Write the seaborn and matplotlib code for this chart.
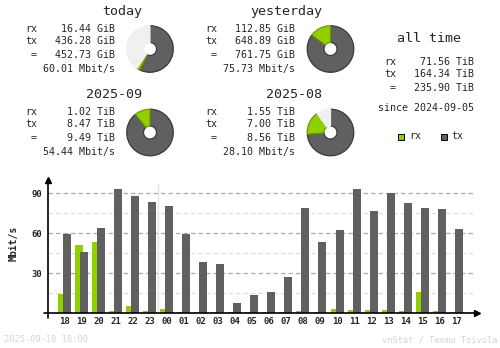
import numpy as np
import matplotlib
matplotlib.use("Agg")
import matplotlib.pyplot as plt
import seaborn as sns

# ---------------- data ----------------
hours = ["18", "19", "20", "21", "22", "23", "00", "01", "02", "03", "04", "05",
         "06", "07", "08", "09", "10", "11", "12", "13", "14", "15", "16", "17"]
rx_rate = [14.5, 51.3, 53.5, 1.8, 5.5, 1.8, 3.3, 1.0, 1.0, 1.0, 1.0, 0.5,
           1.0, 1.0, 1.8, 1.0, 3.3, 2.5, 2.5, 2.5, 1.8, 16.0, 1.8, 1.0]
tx_rate = [59.5, 46.0, 64.0, 93.3, 88.0, 83.5, 80.5, 59.5, 38.5, 37.0, 7.8, 13.8,
           16.0, 27.3, 79.0, 53.5, 62.5, 93.3, 76.8, 90.3, 82.8, 79.0, 78.3, 63.3]
y_ticks = [30, 60, 90]

today_vals = [436.28, 16.44, 761.75 - 452.73]      # tx, rx, remaining vs. yesterday
yesterday_vals = [648.89, 112.85, 0.0]
month_cur_vals = [8.47, 1.02, 0.0]
month_prev_vals = [7.00, 1.55, 9.49 - 8.56]

today_txt = ["16.44 GiB", "436.28 GiB", "452.73 GiB", "60.01 Mbit/s"]
yesterday_txt = ["112.85 GiB", "648.89 GiB", "761.75 GiB", "75.73 Mbit/s"]
month_cur_txt = ["1.02 TiB", "8.47 TiB", "9.49 TiB", "54.44 Mbit/s"]
month_prev_txt = ["1.55 TiB", "7.00 TiB", "8.56 TiB", "28.10 Mbit/s"]
alltime_txt = ["71.56 TiB", "164.34 TiB", "235.90 TiB"]

# ---------------- style ----------------
sns.set_style("white")
plt.rcParams["font.family"] = ["DejaVu Sans Mono", "DejaVu Sans"]

RX = "#92cf00"
TX = "#606060"
REST = "#f0f0f0"
RX_EDGE = "#6a9a00"
TX_EDGE = "#3a3a3a"

W, H = 500, 348
fig = plt.figure(figsize=(W / 100, H / 100), dpi=100)
fig.patch.set_facecolor("white")


def ftext(x, y, s, **kw):
    kw.setdefault("va", "center")
    kw.setdefault("fontsize", 7.2)
    fig.text(x / W, 1 - y / H, s, **kw)


def block(xl, xr, title, ytitle, rows_y, txt):
    ftext(xr + 27, ytitle, title, ha="right", fontsize=9.6)
    ftext(xl, rows_y[0], "rx", ha="left")
    ftext(xl, rows_y[1], "tx", ha="left")
    ftext(xl + 9, rows_y[2], "=", ha="center")
    for yy, s in zip(rows_y, txt):
        ftext(xr, yy, s, ha="right")


def pie(cx, cy, vals):
    r = 24
    ax = fig.add_axes([(cx - r) / W, 1 - (cy + r) / H, 2 * r / W, 2 * r / H])
    cols = [TX, RX, REST]
    edges = [TX_EDGE, RX_EDGE, REST]
    v2, c2, e2 = [], [], []
    for v, c, e in zip(vals, cols, edges):
        if v > 0:
            v2.append(v); c2.append(c); e2.append(e)
    wedges, _ = ax.pie(v2, colors=c2, startangle=90, counterclock=False, radius=0.97,
                       wedgeprops=dict(width=0.97 - 6.5 / 24, linewidth=0.9))
    for w, e in zip(wedges, e2):
        w.set_edgecolor(e)
        w.set_clip_on(False)
    ax.set_xlim(-1, 1)
    ax.set_ylim(-1, 1)
    ax.set_aspect("equal")
    ax.axis("off")


# text blocks
block(25, 115, "today", 12, [29, 41, 55, 69], today_txt)
block(25, 115, "2025-09", 94, [112, 124, 138, 152], month_cur_txt)
block(205, 295, "yesterday", 12, [29, 41, 55, 69], yesterday_txt)
block(205, 295, "2025-08", 94, [112, 124, 138, 152], month_prev_txt)

pie(150, 49, today_vals)
pie(150, 132.5, month_cur_vals)
pie(330.5, 49, yesterday_vals)
pie(330.5, 132.5, month_prev_vals)

# all time
ftext(429, 39, "all time", ha="center", fontsize=9.6)
ftext(384, 62, "rx", ha="left")
ftext(384, 74, "tx", ha="left")
ftext(393, 88, "=", ha="center")
for yy, s in zip([62, 74, 88], alltime_txt):
    ftext(474, yy, s, ha="right")
ftext(474, 108, "since 2024-09-05", ha="right")

# legend
from matplotlib.patches import Rectangle
fig.patches.append(Rectangle((398 / W, 1 - 139.5 / H), 6 / W, 6 / H, transform=fig.transFigure,
                             facecolor=RX, edgecolor="black", lw=0.7))
ftext(409, 136, "rx", ha="left")
fig.patches.append(Rectangle((440.5 / W, 1 - 139.5 / H), 6 / W, 6 / H, transform=fig.transFigure,
                             facecolor=TX, edgecolor="black", lw=0.7))
ftext(451, 136, "tx", ha="left")

# ---------------- bar chart ----------------
ax = fig.add_axes([48 / W, 1 - 313 / H, 429 / W, 133 / H])
pos = np.arange(len(hours))
off = 0.147
sns.barplot(x=pos - off, y=rx_rate, native_scale=True, width=0.47, color=RX,
            saturation=1, linewidth=0, errorbar=None, ax=ax, orient="x", zorder=2)
sns.barplot(x=pos + off, y=tx_rate, native_scale=True, width=0.47, color=TX,
            saturation=1, linewidth=0, errorbar=None, ax=ax, orient="x", zorder=3)

x0, x1 = -0.97, 24.22
for v in [15, 45, 75]:
    ax.hlines(v, x0, 24.0, colors="#dedede", linestyles=(0, (3.6, 2.4)), lw=0.9, zorder=0)
for v in y_ticks:
    ax.hlines(v, x0, 24.0, colors="#ababab", linestyles=(0, (3.6, 2.4)), lw=0.9, zorder=0)
ax.vlines(5.5, 0, 97.7, colors="#e2e2e2", lw=0.9, zorder=0)

ax.set_xlim(x0, x1)
ax.set_ylim(0, 99.8)
for s in ax.spines.values():
    s.set_visible(False)
ax.plot([0, 0], [-0.035, 1], transform=ax.transAxes, color="black", lw=1.2, clip_on=False, zorder=5)
ax.plot([-0.01, 1], [0, 0], transform=ax.transAxes, color="black", lw=1.2, clip_on=False, zorder=5)
ax.plot([0], [1], marker="^", ms=4, color="black", transform=ax.transAxes, clip_on=False, zorder=5)
ax.plot([1], [0], marker=">", ms=4, color="black", transform=ax.transAxes, clip_on=False, zorder=5)

ax.set_xticks(pos)
ax.set_xticklabels(hours, fontsize=6.5, fontweight="bold")
ax.set_yticks(y_ticks)
ax.set_yticklabels([str(v) for v in y_ticks], fontsize=6.5, fontweight="bold")
ax.tick_params(length=0, axis="x", pad=3)
ax.tick_params(length=0, axis="y", pad=4.5)
ax.set_xlabel("")
ax.set_ylabel("")
ax.patch.set_alpha(0)
ftext(14, 243, "Mbit/s", ha="center", rotation=90, fontsize=7, fontweight="bold")

# footer
ftext(4, 340, "2025-09-18 18:00", ha="left", fontsize=6.2, color="#d4d4d4")
ftext(497, 340, "vnStat / Teemu Toivola", ha="right", fontsize=6.2, color="#d4d4d4")

fig.savefig("out.png", dpi=100, facecolor="white")
